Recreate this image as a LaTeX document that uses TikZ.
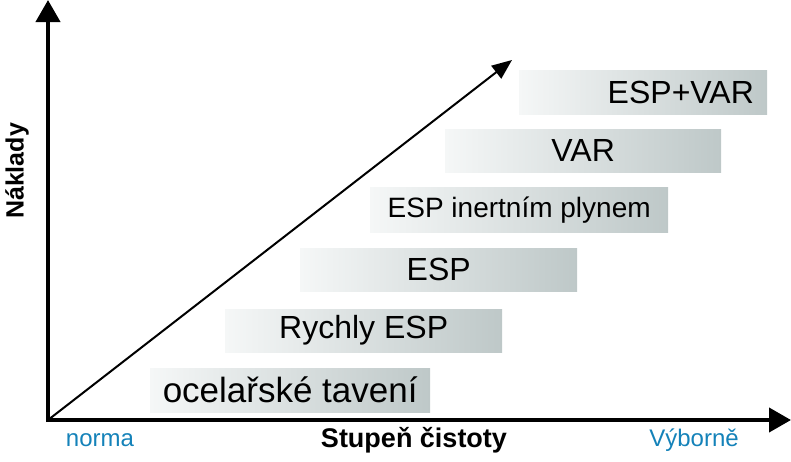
\documentclass[tikz,border=0pt]{standalone}
\usepackage{fontspec}
\setmainfont{Liberation Sans}
\usetikzlibrary{arrows.meta}
\definecolor{boxL}{RGB}{245,247,247}
\definecolor{boxR}{RGB}{190,200,200}
\definecolor{lab}{RGB}{20,130,185}
\tikzset{
 bx/.style={left color=boxL,right color=boxR,draw=none,anchor=north west,inner sep=0pt},
 axis/.style={line width=4pt,-{Triangle[length=22pt,width=24pt]}},
}
\begin{document}
\begin{tikzpicture}[x=1pt,y=-1pt]
\useasboundingbox (0,0) rectangle (791,461);
\coordinate (o) at (48,420);
\coordinate (ytop) at (48,0);
\coordinate (xend) at (791,420);
\coordinate (dend) at (512,60);
\draw[axis] (48,422) -- (ytop);
\draw[axis] (46,420) -- (xend);
\draw[line width=2pt,-{Triangle[length=20pt,width=16pt]}] (o) -- (dend);
\node[bx,minimum width=280pt,minimum height=44pt] (b1) at (150,368) {};
\node[font=\fontsize{35}{35}\selectfont] at (b1.center) {ocelařské tavení};
\node[bx,minimum width=277pt,minimum height=43pt] (b2) at (225,309) {};
\node[font=\fontsize{32}{32}\selectfont] at (b2.center) {Rychly ESP};
\node[bx,minimum width=277pt,minimum height=43pt] (b3) at (300,248) {};
\node[font=\fontsize{32}{32}\selectfont] at (b3.center) {ESP};
\node[bx,minimum width=298pt,minimum height=45pt] (b4) at (370,187) {};
\node[font=\fontsize{28}{28}\selectfont] at (b4.center) {ESP inertním plynem};
\node[bx,minimum width=276pt,minimum height=43pt] (b5) at (445,129) {};
\node[font=\fontsize{32}{32}\selectfont] at (b5.center) {VAR};
\node[bx,minimum width=248pt,minimum height=44pt] (b6) at (519,70) {};
\node[font=\fontsize{32}{32}\selectfont,anchor=east] at ([xshift=-10pt]b6.east) {ESP+VAR};
\node[font=\fontsize{24}{24}\selectfont,text=lab] (n1) at (100,440) {norma};
\node[font=\fontsize{24}{24}\selectfont,text=lab] (n2) at (694,440) {Výborně};
\node[font=\bfseries\fontsize{27}{27}\selectfont] (n3) at (414,440) {Stupeň čistoty};
\node[font=\bfseries\fontsize{25}{25}\selectfont,rotate=90] (n4) at (17,171) {Náklady};
\end{tikzpicture}
\end{document}
